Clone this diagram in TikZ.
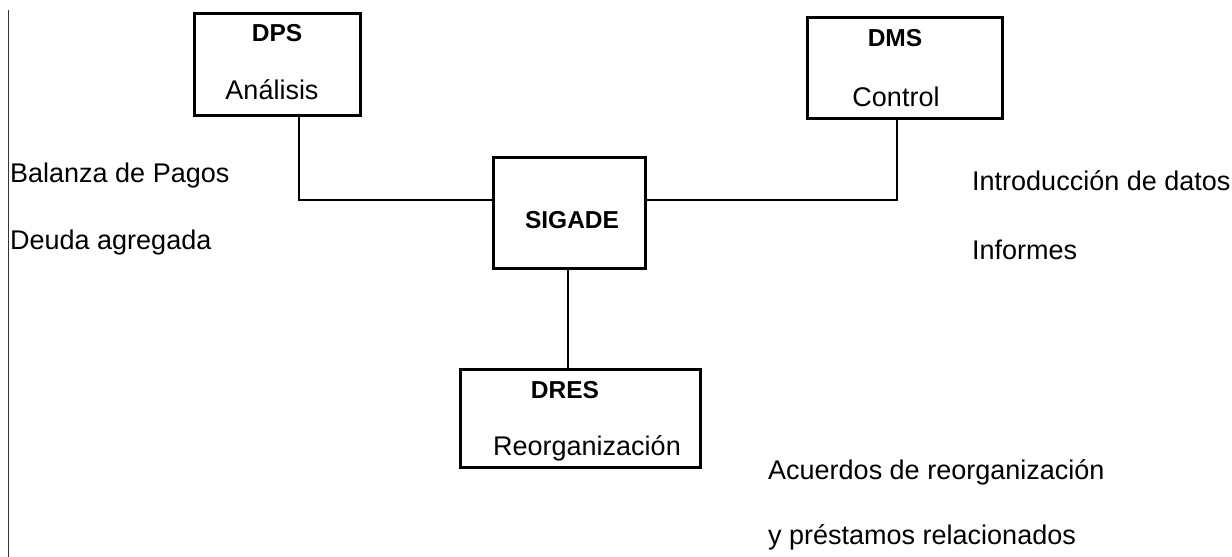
\documentclass[tikz,border=0pt]{standalone}
\usepackage{fontspec}
\setmainfont{Liberation Sans}
\begin{document}
\begin{tikzpicture}[x=1pt,y=-1pt,
  box/.style={draw, line width=3pt, rectangle, inner sep=0pt},
  link/.style={line width=2.8pt},
  head/.style={font=\fontsize{24.5}{28}\selectfont\bfseries, inner sep=0pt},
  lbl/.style={font=\fontsize{27}{30}\selectfont, inner sep=0pt},
  side/.style={font=\fontsize{27}{30}\selectfont, inner sep=0pt, anchor=west}]
\useasboundingbox (0,0) rectangle (1232,557);
% boxes
\node[box, minimum width=166pt, minimum height=102pt] (dps) at (277,64) {};
\node[box, minimum width=195pt, minimum height=101pt] (dms) at (904.5,67.5) {};
\node[box, minimum width=152pt, minimum height=111pt] (sigade) at (569,212.5) {};
\node[box, minimum width=240pt, minimum height=98pt] (dres) at (580,418) {};
% box texts
\node[head] (dpsh) at (277,33) {DPS};
\node[lbl] (dpst) at (272,90) {Análisis};
\node[head] (dmsh) at (895,38) {DMS};
\node[lbl] (dmst) at (896,97) {Control};
\node[head] (sigh) at (572,220) {SIGADE};
\node[head] (dresh) at (565,390) {DRES};
\node[lbl] (drest) at (587,448) {Reorganización};
% side texts
\node[side] (bal) at (10,176) {Balanza de Pagos};
\node[side] (deu) at (10,243) {Deuda agregada};
\node[side] (intro) at (972,181) {Introducción de datos};
\node[side] (inf) at (972,250) {Informes};
\node[side] (acu) at (768,472) {Acuerdos de reorganización};
\node[side] (ypr) at (768,537) {y préstamos relacionados};
% connectors
\coordinate (c1) at (299,200);
\coordinate (c2) at (897,200);
\coordinate (c3) at (568,300);
\draw[link] (dps.south -| c1) |- (sigade.west |- c1);
\draw[link] (sigade.east |- c2) -| (dms.south -| c2);
\draw[link] (sigade.south -| c3) -- (dres.north -| c3);
% left margin line
\coordinate (lt) at (8,10);
\coordinate (lb) at (8,557);
\draw[line width=1pt, black!80] (lt) -- (lb);
\end{tikzpicture}
\end{document}
